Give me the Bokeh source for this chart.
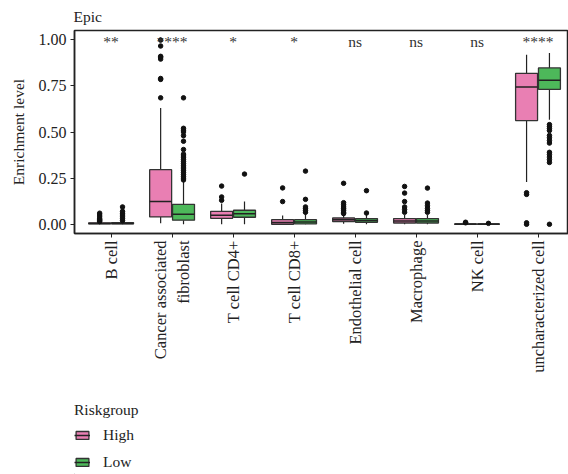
import math
from bokeh.plotting import figure
from bokeh.layouts import column
from bokeh.models import (ColumnDataSource, FixedTicker, Legend, LegendItem,
                          PrintfTickFormatter, Range1d)
from bokeh.core.properties import value
from bokeh.embed import file_html
from bokeh.resources import INLINE

FONT = "Liberation Serif"

categories = ["B cell", "Cancer associated\nfibroblast", "T cell CD4+", "T cell CD8+",
              "Endothelial cell", "Macrophage", "NK cell", "uncharacterized cell"]
significance = ["**", "****", "*", "*", "ns", "ns", "ns", "****"]

high_lo = [0.000, 0.005, 0.000, 0.000, 0.003, 0.000, 0.000, 0.229]
high_q1 = [0.002, 0.040, 0.032, 0.000, 0.015, 0.007, 0.000, 0.562]
high_med = [0.004, 0.123, 0.049, 0.010, 0.024, 0.018, 0.001, 0.744]
high_q3 = [0.008, 0.296, 0.070, 0.025, 0.034, 0.031, 0.002, 0.818]
high_hi = [0.013, 0.630, 0.112, 0.047, 0.050, 0.050, 0.003, 0.919]
high_out = [
    [0.015, 0.02, 0.025, 0.03, 0.04, 0.05, 0.06],
    [0.685, 0.785, 0.79, 0.895, 0.905, 0.91, 0.966, 0.998],
    [0.13, 0.148, 0.207],
    [0.123, 0.197],
    [0.058, 0.065, 0.076, 0.085, 0.094, 0.106, 0.117, 0.222],
    [0.065, 0.08, 0.094, 0.123, 0.169, 0.205],
    [0.008, 0.011],
    [0.0, 0.008, 0.162, 0.171],
]

low_lo = [0.000, 0.000, 0.000, 0.000, 0.000, 0.000, 0.000, 0.566]
low_q1 = [0.002, 0.022, 0.038, 0.002, 0.011, 0.007, 0.000, 0.731]
low_med = [0.004, 0.054, 0.057, 0.012, 0.020, 0.018, 0.001, 0.780]
low_q3 = [0.009, 0.108, 0.076, 0.025, 0.031, 0.031, 0.002, 0.847]
low_hi = [0.018, 0.229, 0.123, 0.060, 0.050, 0.050, 0.003, 0.928]
low_out = [
    [0.02, 0.03, 0.04, 0.05, 0.06, 0.07, 0.094],
    [0.24, 0.25, 0.26, 0.27, 0.28, 0.29, 0.30, 0.31, 0.32, 0.33, 0.34, 0.35,
     0.36, 0.37, 0.38, 0.405, 0.45, 0.48, 0.50, 0.51, 0.52, 0.685],
    [0.272],
    [0.065, 0.075, 0.085, 0.094, 0.135, 0.288],
    [0.061, 0.182],
    [0.065, 0.075, 0.085, 0.10, 0.115, 0.196],
    [0.005],
    [0.0, 0.335, 0.35, 0.364, 0.378, 0.39, 0.44, 0.454, 0.469, 0.481,
     0.508, 0.519, 0.53, 0.54],
]

groups = ["High", "Low"]
colors = ["#E97FB3", "#4DB85A"]
DODGE = 0.1875
BOXW = 0.36
INK = "#222222"

p = figure(width=568, height=398, x_range=(0.4, 8.5), y_range=(-0.05, 1.05),
           output_backend="svg", toolbar_location=None,
           min_border_left=74, min_border_right=0, min_border_top=30, min_border_bottom=165)
p.background_fill_color = "white"
p.border_fill_color = "white"
p.grid.visible = False
p.outline_line_color = INK
p.outline_line_width = 1.5

p.title.text = "Epic"
p.title.text_font = FONT
p.title.text_font_size = "15.5px"
p.title.text_font_style = "normal"
p.title.text_color = INK
p.title.align = "left"
p.title.offset = -1
p.title.standoff = 11

xs = list(range(1, len(categories) + 1))
p.xaxis.ticker = FixedTicker(ticks=xs)
p.xaxis.major_label_overrides = {i: c for i, c in zip(xs, categories)}
p.xaxis.major_label_orientation = math.pi / 2
p.yaxis.ticker = FixedTicker(ticks=[0, 0.25, 0.5, 0.75, 1.0])
p.yaxis.formatter = PrintfTickFormatter(format="%.2f")
p.yaxis.axis_label = "Enrichment level"
for ax in (p.xaxis[0], p.yaxis[0]):
    ax.major_label_text_font = FONT
    ax.major_label_text_color = INK
    ax.axis_label_text_font = FONT
    ax.axis_label_text_font_size = "15.5px"
    ax.axis_label_text_font_style = "normal"
    ax.axis_label_text_color = INK
    ax.axis_line_color = INK
    ax.axis_line_width = 1.5
    ax.major_tick_line_color = INK
    ax.major_tick_in = 0
    ax.major_tick_out = 4
    ax.minor_tick_line_color = None
p.xaxis.major_label_text_font_size = "16.5px"
p.yaxis.major_label_text_font_size = "16px"
p.xaxis.major_label_standoff = 3
p.yaxis.major_label_standoff = 4
p.yaxis.axis_label_standoff = 9

sets = [
    (high_lo, high_q1, high_med, high_q3, high_hi, high_out),
    (low_lo, low_q1, low_med, low_q3, low_hi, low_out),
]
for gi, (lo, q1, med, q3, hi, out) in enumerate(sets):
    off = -DODGE if gi == 0 else DODGE
    x = [i + off for i in xs]
    src = ColumnDataSource(dict(x=x, lo=lo, q1=q1, med=med, q3=q3, hi=hi,
                                xl=[v - BOXW / 2 for v in x], xr=[v + BOXW / 2 for v in x]))
    p.segment(x0="x", y0="q3", x1="x", y1="hi", source=src, line_color=INK, line_width=1.2)
    p.segment(x0="x", y0="lo", x1="x", y1="q1", source=src, line_color=INK, line_width=1.2)
    p.vbar(x="x", width=BOXW, bottom="q1", top="q3", source=src,
           fill_color=colors[gi], line_color="#333333", line_width=1.3)
    p.segment(x0="xl", y0="med", x1="xr", y1="med", source=src,
              line_color=INK, line_width=1.5)
    ox, oy = [], []
    for i, vals in zip(x, out):
        ox += [i] * len(vals)
        oy += vals
    p.scatter(ox, oy, size=4.5, color="#111111", marker="circle")

p.text(x=xs, y=[0.99] * len(xs), text=significance, text_font=value(FONT),
       text_font_size="15.5px", text_color="#333333", text_align="center",
       text_baseline="middle")

# legend panel (its key glyphs sit outside the visible range; only the legend shows)
lg = figure(width=568, height=76, output_backend="svg", toolbar_location=None,
            x_range=Range1d(0, 1), y_range=Range1d(0, 1),
            x_axis_location=None, y_axis_location=None,
            min_border_left=74, min_border_right=0, min_border_top=3, min_border_bottom=0)
lg.grid.visible = False
lg.outline_line_color = None
lg.border_fill_color = "white"
legend_items = []
for gi in range(2):
    box = lg.vbar(x=[-10], bottom=[-10], top=[-9], width=0.1, fill_color=colors[gi],
                  line_color="#333333", line_width=1.3)
    med = lg.segment(x0=[-10], y0=[-10], x1=[-9], y1=[-10], line_color=INK, line_width=1.5)
    legend_items.append(LegendItem(label=groups[gi], renderers=[box, med]))

legend = Legend(items=legend_items, title="Riskgroup", location="top_left",
                orientation="vertical")
legend.title_text_font = FONT
legend.title_text_font_size = "15.5px"
legend.title_text_font_style = "normal"
legend.title_text_color = INK
legend.title_standoff = 7
legend.label_text_font = FONT
legend.label_text_font_size = "15.5px"
legend.label_text_color = INK
legend.glyph_width = 16
legend.glyph_height = 10
legend.label_standoff = 13
legend.spacing = 9
legend.padding = 0
legend.margin = 0
legend.border_line_color = None
legend.background_fill_alpha = 0
lg.add_layout(legend)

layout = column(p, lg, spacing=0)
open("out.html", "w").write(file_html(layout, INLINE))
